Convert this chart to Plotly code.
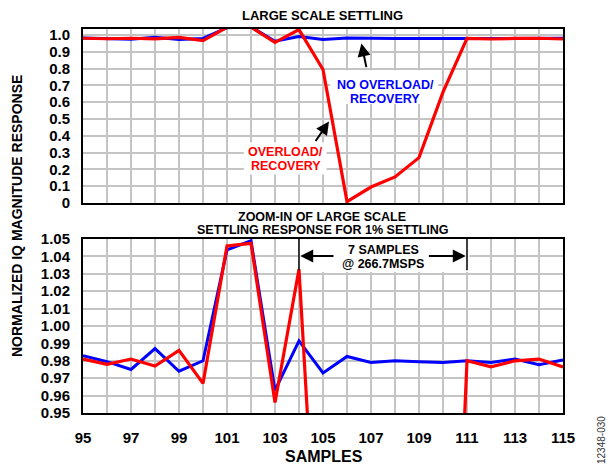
import plotly.graph_objects as go
from plotly.subplots import make_subplots

# ---- data ----
samples = list(range(95, 116))
no_overload = [0.983, 0.9795, 0.975, 0.987, 0.974, 0.980, 1.0437, 1.049, 0.963, 0.9915,
               0.973, 0.9825, 0.979, 0.980, 0.9795, 0.979, 0.980, 0.979, 0.981, 0.9778, 0.9805]
overload = [0.981, 0.978, 0.981, 0.977, 0.986, 0.967, 1.046, 1.0475, 0.956, 1.0326,
            0.795, 0.008, 0.095, 0.155, 0.27, 0.66, 0.980, 0.9765, 0.980, 0.981, 0.9765]

x_tickvals = samples
x_ticktext = [str(s) if s % 2 == 1 else "" for s in samples]
top_tickvals = [0, 0.1, 0.2, 0.3, 0.4, 0.5, 0.6, 0.7, 0.8, 0.9, 1.0]
top_ticktext = ["0", "0.1", "0.2", "0.3", "0.4", "0.5", "0.6", "0.7", "0.8", "0.9", "1.0"]
bot_tickvals = [0.95, 0.96, 0.97, 0.98, 0.99, 1.00, 1.01, 1.02, 1.03, 1.04, 1.05]
bot_ticktext = ["0.95", "0.96", "0.97", "0.98", "0.99", "1.00", "1.01", "1.02", "1.03", "1.04", "1.05"]

BLUE = "#0000FF"
RED = "#FF0000"
FONT = "Arial, Liberation Sans, sans-serif"
GRID = "#C4C4C4"

W, H = 614, 465
L, R, T, B = 83, 51, 29, 52
PH = H - T - B  # 384

def py(p):  # pixel y -> paper
    return (H - B - p) / PH

def px(p):
    return (p - L) / (W - L - R)

fig = make_subplots(rows=2, cols=1, shared_xaxes=False, vertical_spacing=0.0)

for row in (1, 2):
    fig.add_trace(go.Scatter(x=samples, y=no_overload, mode="lines",
                             line=dict(color=BLUE, width=3), showlegend=False), row=row, col=1)
    fig.add_trace(go.Scatter(x=samples, y=overload, mode="lines",
                             line=dict(color=RED, width=3.2), showlegend=False), row=row, col=1)

axis_common = dict(showline=True, mirror=True, linecolor="black", linewidth=2,
                   showgrid=True, gridcolor=GRID, gridwidth=1.5, zeroline=False)

fig.update_xaxes(range=[95, 115], tickvals=x_tickvals, ticktext=x_ticktext,
                 domain=[0, 1], **axis_common)
fig.update_xaxes(showticklabels=False, row=1, col=1)
fig.update_xaxes(ticks="outside", ticklen=10, tickcolor="rgba(0,0,0,0)",
                 tickfont=dict(family=FONT, size=15, color="black", weight="bold"), row=2, col=1)

fig.update_yaxes(ticks="outside", ticklen=8, tickcolor="rgba(0,0,0,0)",
                 tickfont=dict(family=FONT, size=15, color="black", weight="bold"), **axis_common)
fig.update_yaxes(range=[0, 1.036], tickvals=top_tickvals, ticktext=top_ticktext,
                 domain=[py(203), 1.0], row=1, col=1)
fig.update_yaxes(range=[0.95, 1.05], tickvals=bot_tickvals, ticktext=bot_ticktext,
                 domain=[0.0, py(239)], row=2, col=1)

shapes = []
# white backgrounds behind annotation text (cover grid, not traces)
shapes.append(dict(type="rect", xref="x", yref="y", x0=105.3, x1=109.8, y0=0.59, y1=0.79,
                   fillcolor="white", line=dict(width=0), layer="between"))
shapes.append(dict(type="rect", xref="x", yref="y", x0=101.7, x1=105.15, y0=0.17, y1=0.36,
                   fillcolor="white", line=dict(width=0), layer="between"))
shapes.append(dict(type="rect", xref="x2", yref="y2", x0=104.0, x1=111.1, y0=1.031, y1=1.05,
                   fillcolor="white", line=dict(width=0), layer="between"))
# vertical markers for 7 samples
for xv in (104, 111):
    shapes.append(dict(type="line", xref="x2", yref="y2", x0=xv, x1=xv, y0=1.032, y1=1.05,
                       line=dict(color="black", width=1.5), layer="above"))
fig.update_layout(shapes=shapes)

ann = []
def txt(x, y, s, size, color="black", xref="paper", yref="paper", angle=0, bold=True):
    ann.append(dict(x=x, y=y, xref=xref, yref=yref, text=s, showarrow=False,
                    textangle=angle, xanchor="center", yanchor="middle",
                    font=dict(family=FONT, size=size, color=color,
                              weight="bold" if bold else "normal")))

# titles
txt(px(322), py(15), "LARGE SCALE SETTLING", 13)
txt(px(322), py(216.5), "ZOOM-IN OF LARGE SCALE", 12.5)
txt(px(322), py(230), "SETTLING RESPONSE FOR 1% SETTLING", 12.5)
txt(px(17), py(216), "NORMALIZED IQ MAGNITUDE RESPONSE", 14, angle=-90)
txt(px(324), py(456), "SAMPLES", 16)
txt(px(601), py(440), "12348-030", 10, color="#333333", angle=-90, bold=False)

# top annotations
txt(107.6, 0.705, "NO OVERLOAD/", 12.5, color=BLUE, xref="x", yref="y")
txt(107.6, 0.622, "RECOVERY", 12.5, color=BLUE, xref="x", yref="y")
txt(103.45, 0.302, "OVERLOAD/", 12.5, color=RED, xref="x", yref="y")
txt(103.45, 0.220, "RECOVERY", 12.5, color=RED, xref="x", yref="y")

# bottom annotation text
txt(107.5, 1.0437, "7 SAMPLES", 12.5, xref="x2", yref="y2")
txt(107.5, 1.0357, "@ 266.7MSPS", 12.5, xref="x2", yref="y2")

def arrow(x, y, ax, ay, xref, yref):
    ann.append(dict(x=x, y=y, ax=ax, ay=ay, xref=xref, yref=yref, axref=xref, ayref=yref,
                    text="", showarrow=True, arrowhead=2, arrowsize=1.3, arrowwidth=2,
                    arrowcolor="black", standoff=0))

arrow(106.6, 0.95, 106.82, 0.80, "x", "y")
arrow(105.25, 0.485, 104.65, 0.36, "x", "y")
arrow(104.05, 1.0402, 105.5, 1.0402, "x2", "y2")
arrow(110.95, 1.0402, 109.35, 1.0402, "x2", "y2")

fig.update_layout(annotations=ann, width=W, height=H,
                  margin=dict(l=L, r=R, t=T, b=B),
                  plot_bgcolor="white", paper_bgcolor="white",
                  font=dict(family=FONT))

fig.write_html("out.html", config={"displayModeBar": False},
               post_script="document.body.style.margin='0px';document.body.style.padding='0px';")
